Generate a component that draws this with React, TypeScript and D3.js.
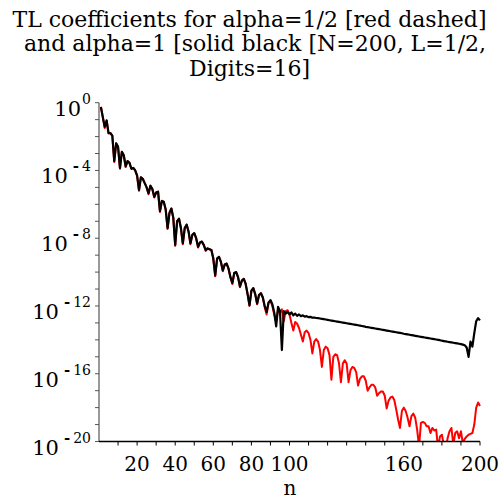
import React from "react";
import * as d3 from "d3";

const titleLines = [
  "TL coefficients for alpha=1/2 [red dashed]",
  "and alpha=1 [solid black [N=200, L=1/2,",
  "Digits=16]",
];
const xLabel = "n";
const xMinorTicks = [10, 20, 30, 40, 50, 60, 70, 80, 90, 100, 110, 120, 130, 140, 150, 160, 170, 180, 190, 200];
const xTickLabels = [20, 40, 60, 80, 100, 160, 200];
const yDecades = [0, -1, -2, -3, -4, -5, -6, -7, -8, -9, -10, -11, -12, -13, -14, -15, -16, -17, -18, -19, -20];
const yLabelExponents = [0, -4, -8, -12, -16, -20];

// log10 |coefficient|, n = 1..200, alpha = 1 (solid black)
const logBlack = [
  -0.25, -0.85, -1.42, -1.05, -1.8, -1.8, -1.95, -3.45, -2.4, -2.6,
  -3.85, -2.9, -3.1, -3.75, -3.45, -3.55, -3.9, -3.85, -4.0, -4.3,
  -5.15, -4.4, -4.5, -4.75, -5.0, -5.35, -4.9, -5.1, -5.55, -5.3,
  -5.25, -6.4, -5.8, -5.85, -6.3, -7.4, -6.5, -6.25, -6.8, -8.4,
  -7.0, -6.85, -7.4, -8.3, -7.4, -7.2, -7.6, -8.3, -7.8, -7.7,
  -8.0, -8.5, -8.25, -8.2, -8.4, -8.7, -8.6, -8.65, -8.7, -9.2,
  -10.2, -9.2, -9.1, -9.4, -9.9, -9.55, -9.5, -9.8, -10.3, -10.65,
  -10.05, -10.0, -10.3, -10.85, -10.5, -10.4, -10.7, -11.3, -11.95, -11.1,
  -10.95, -11.3, -11.85, -11.35, -11.25, -11.5, -12.0, -12.35, -11.8, -11.65,
  -11.9, -12.4, -13.2, -12.05, -12.3, -14.6, -12.3, -12.45, -12.35, -12.5,
  -12.38, -12.55, -12.45, -12.58, -12.5, -12.6, -12.55, -12.63, -12.6, -12.66,
  -12.64, -12.69, -12.68, -12.71, -12.72, -12.74, -12.76, -12.78, -12.8, -12.82,
  -12.84, -12.86, -12.88, -12.9, -12.92, -12.94, -12.96, -12.98, -13.0, -13.02,
  -13.04, -13.06, -13.08, -13.1, -13.12, -13.14, -13.16, -13.18, -13.2, -13.23,
  -13.25, -13.27, -13.29, -13.31, -13.33, -13.35, -13.37, -13.39, -13.41, -13.43,
  -13.45, -13.47, -13.49, -13.51, -13.53, -13.55, -13.57, -13.59, -13.61, -13.64,
  -13.66, -13.68, -13.7, -13.72, -13.74, -13.76, -13.78, -13.8, -13.82, -13.84,
  -13.86, -13.88, -13.9, -13.92, -13.94, -13.96, -13.98, -14.0, -14.02, -14.05,
  -14.07, -14.09, -14.11, -14.13, -14.15, -14.17, -14.19, -14.21, -14.23, -14.25,
  -14.28, -14.32, -14.45, -15.0, -14.1, -14.4, -13.6, -12.9, -12.72, -12.85,
];

// log10 |coefficient|, n = 1..200, alpha = 1/2 (red)
const logRed = [
  -0.25, -0.85, -1.5, -1.05, -1.8, -1.8, -1.95, -3.5, -2.4, -2.6,
  -3.9, -2.9, -3.1, -3.8, -3.45, -3.55, -3.9, -3.85, -4.0, -4.3,
  -5.2, -4.4, -4.5, -4.75, -5.0, -5.4, -4.9, -5.1, -5.6, -5.3,
  -5.25, -6.45, -5.8, -5.85, -6.3, -7.45, -6.5, -6.25, -6.8, -8.45,
  -7.0, -6.85, -7.4, -8.35, -7.4, -7.2, -7.6, -8.35, -7.8, -7.7,
  -8.0, -8.55, -8.25, -8.2, -8.4, -8.75, -8.6, -8.65, -8.7, -9.2,
  -10.25, -9.2, -9.1, -9.4, -9.95, -9.55, -9.5, -9.8, -10.3, -10.7,
  -10.05, -10.0, -10.3, -10.9, -10.5, -10.4, -10.7, -11.3, -12.0, -11.1,
  -10.95, -11.3, -11.9, -11.35, -11.25, -11.5, -12.1, -12.5, -11.8, -11.7,
  -12.0, -12.5, -12.9, -12.2, -12.4, -12.2, -12.9, -12.3, -12.25, -12.5,
  -13.0, -13.45, -12.95, -13.05, -13.3, -13.7, -14.1, -13.55, -13.45, -13.6,
  -14.0, -14.8, -14.1, -13.95, -14.1, -14.6, -15.6, -14.6, -14.4, -14.5,
  -14.9, -16.35, -15.0, -14.85, -14.9, -15.4, -16.5, -15.4, -15.2, -15.4,
  -16.5, -15.8, -15.6, -15.65, -15.9, -16.7, -16.3, -16.15, -16.15, -16.4,
  -17.0, -16.8, -16.65, -16.65, -16.8, -17.3, -17.15, -17.05, -17.05, -17.3,
  -18.05, -17.6, -17.4, -17.35, -17.55, -18.1, -18.7, -19.2, -18.2, -18.0,
  -18.2, -18.6, -19.1, -18.5, -18.35, -18.6, -19.3, -20.3, -18.9, -18.85,
  -18.9, -19.1, -19.1, -19.5, -19.2, -19.35, -19.3, -20.4, -19.7, -19.6,
  -20.2, -20.5, -19.8, -19.4, -19.2, -20.2, -19.5, -19.4, -19.8, -19.4,
  -20.1, -19.85, -19.7, -19.6, -19.55, -19.5, -19.0, -18.0, -17.7, -17.9,
];

const FONT = "'DejaVu Serif', serif";

export default function App() {
  const W = 499;
  const H = 501;
  const x = d3.scaleLinear().domain([0, 200]).range([99, 480]);
  const y = d3.scaleLog().domain([1e-20, 1]).range([441.5, 102.7]);
  const toPts = (arr: number[]) => arr.map((v, i) => [i + 1, Math.pow(10, v)] as [number, number]);
  const line = d3
    .line<[number, number]>()
    .x((d) => x(d[0]))
    .y((d) => y(d[1]));
  const redPath = line(toPts(logRed)) || "";
  const blackPath = line(toPts(logBlack)) || "";
  const x0 = x(0);
  const x1 = x(200);
  const yTop = y(1);
  const yBot = y(1e-20);

  return (
    <svg
      width={W}
      height={H}
      style={{ position: "absolute", left: 0, top: 0, background: "#fff" }}
      fontFamily={FONT}
    >
      <defs>
        <clipPath id="plotclip">
          <rect x={x0} y={yTop - 2} width={x1 - x0 + 3} height={yBot - yTop + 2} />
        </clipPath>
      </defs>
      {titleLines.map((t, i) => (
        <text
          key={i}
          x={i === 1 ? 255 : 249.5}
          y={26.7 + i * 24.7}
          textAnchor="middle"
          fontSize={22}
          fill="#000"
        >
          {t}
        </text>
      ))}

      <g clipPath="url(#plotclip)">
        <path d={redPath} fill="none" stroke="#ff0000" strokeWidth={2} strokeLinejoin="round" />
        <path d={blackPath} fill="none" stroke="#000" strokeWidth={2.2} strokeLinejoin="round" />
      </g>

      {/* y axis */}
      <line x1={x0} x2={x0} y1={yTop} y2={yBot} stroke="#777" strokeWidth={1.5} />
      {yDecades.map((e) => (
        <line key={e} x1={x0 - 4} x2={x0} y1={y(Math.pow(10, e))} y2={y(Math.pow(10, e))} stroke="#555" strokeWidth={1} />
      ))}
      {yLabelExponents.map((e) => {
        const yy = y(Math.pow(10, e));
        return (
          <text key={e} x={91} y={yy + 13} textAnchor="end" fill="#000">
            <tspan fontSize={21}>10</tspan>
            {e < 0 ? (
              <tspan fontSize={15} dx={5} dy={-12} fontWeight="bold">
                -
              </tspan>
            ) : null}
            <tspan fontSize={14} dx={e < 0 ? 3 : 1} dy={e < 0 ? 0 : -12}>
              {String(Math.abs(e))}
            </tspan>
          </text>
        );
      })}

      {/* x axis */}
      <line x1={x0} x2={x1} y1={yBot} y2={yBot} stroke="#000" strokeWidth={1.5} />
      {xMinorTicks.map((v) => (
        <line key={v} x1={x(v)} x2={x(v)} y1={yBot} y2={yBot + 4} stroke="#000" strokeWidth={1} />
      ))}
      {xTickLabels.map((v) => (
        <text key={v} x={x(v)} y={470.7} textAnchor="middle" fontSize={20} fill="#000">
          {String(v)}
        </text>
      ))}
      <text x={290} y={495} textAnchor="middle" fontSize={20} fill="#000">
        {xLabel}
      </text>
    </svg>
  );
}
